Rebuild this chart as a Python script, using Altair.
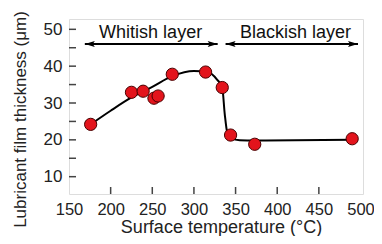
import altair as alt
import pandas as pd

# measured points
temp = [176, 225, 239, 252, 257, 274, 314, 334, 344, 373, 490]
thick = [24.2, 32.9, 33.2, 31.3, 31.9, 37.8, 38.4, 34.2, 21.3, 18.8, 20.3]

# smooth trend line
fit_x = [176, 200, 225, 250, 274, 300, 316, 328, 334, 337, 340, 345, 355, 373, 490]
fit_y = [24.2, 27.9, 31.5, 34.4, 37.3, 38.7, 38.5, 36.3, 34.2, 27.0, 22.0, 20.4, 19.9, 19.8, 20.0]

# annotation arrows
arrow_label = ["Whitish layer", "Blackish layer"]
arrow_start = [169, 338]
arrow_end = [328.5, 497]
arrow_y = [46.0, 46.0]
label_x = [248, 422]
label_y = [47.6, 47.6]

x_labels = [150, 200, 250, 300, 350, 400, 450, 500]
y_labels = [10, 20, 30, 40, 50]
x_ticks = [200, 250, 300, 350, 400, 450]
y_ticks = [10, 15, 20, 25, 30, 35, 40, 45, 50]

W, H = 294, 175
FONT = "Liberation Sans"

pts = pd.DataFrame({"t": temp, "h": thick})
fit = pd.DataFrame({"t": fit_x, "h": fit_y})
arr = pd.DataFrame({"label": arrow_label, "x1": arrow_start, "x2": arrow_end,
                    "y": arrow_y, "lx": label_x, "ly": label_y})
xt = pd.DataFrame({"t": x_ticks})
yt = pd.DataFrame({"h": y_ticks})

xscale = alt.Scale(domain=[150, 503], nice=False, zero=False)
yscale = alt.Scale(domain=[5.3, 52.8], nice=False, zero=False)

xaxis = alt.Axis(values=x_labels, ticks=False, domain=False, grid=False,
                 labelFontSize=16.5, labelFont=FONT, labelColor="#222", labelPadding=7,
                 labelFlush=False,
                 title="Surface temperature (°C)", titleFontSize=18, titleFont=FONT,
                 titleFontWeight="normal", titleColor="#222", titleX=152, titleY=38,
                 titleBaseline="alphabetic")
yaxis = alt.Axis(values=y_labels, ticks=False, domain=False, grid=False,
                 labelFontSize=17, labelFont=FONT, labelColor="#222", labelPadding=7,
                 title="Lubricant film thickness (μm)", titleFontSize=17, titleFont=FONT,
                 titleFontWeight="normal", titleColor="#222", titleY=100, titleX=-44,
                 titleBaseline="alphabetic")

line = alt.Chart(fit).mark_line(color="black", strokeWidth=2, interpolate="monotone").encode(
    x=alt.X("t:Q", scale=xscale, axis=xaxis),
    y=alt.Y("h:Q", scale=yscale, axis=yaxis),
)

points = alt.Chart(pts).mark_point(filled=True, size=150, fill="#e3141c", stroke="#4a0000",
                                   strokeWidth=1, opacity=1).encode(
    x=alt.X("t:Q", scale=xscale), y=alt.Y("h:Q", scale=yscale))

xtick = alt.Chart(xt).mark_rule(color="#444", strokeWidth=1.5).encode(
    x=alt.X("t:Q", scale=xscale), y=alt.value(H), y2=alt.value(H - 7))
ytick = alt.Chart(yt).mark_rule(color="#444", strokeWidth=1.5).encode(
    y=alt.Y("h:Q", scale=yscale), x=alt.value(0), x2=alt.value(7))

arrow_line = alt.Chart(arr).mark_rule(color="black", strokeWidth=2).encode(
    x=alt.X("x1:Q", scale=xscale), x2="x2:Q", y=alt.Y("y:Q", scale=yscale))
head_l = alt.Chart(arr).mark_point(shape="M0,0 L2,-0.6 L1.6,0 L2,0.6 Z", size=100,
                                   filled=True, color="black", opacity=1).encode(
    x=alt.X("x1:Q", scale=xscale), y=alt.Y("y:Q", scale=yscale))
head_r = alt.Chart(arr).mark_point(shape="M0,0 L-2,-0.6 L-1.6,0 L-2,0.6 Z", size=100,
                                   filled=True, color="black", opacity=1).encode(
    x=alt.X("x2:Q", scale=xscale), y=alt.Y("y:Q", scale=yscale))
labels = alt.Chart(arr).mark_text(fontSize=18, font=FONT, color="#111", align="center",
                                  baseline="alphabetic").encode(
    x=alt.X("lx:Q", scale=xscale), y=alt.Y("ly:Q", scale=yscale), text="label:N")

chart = alt.layer(xtick, ytick, line, points, arrow_line, head_l, head_r, labels).properties(
    width=W, height=H,
    autosize=alt.AutoSizeParams(type="none"),
    padding={"left": 61, "top": 11, "right": 11, "bottom": 42},
).configure_view(stroke="#555", strokeWidth=1.5).configure(background="white")

chart.save("out.html", embed_options={"renderer": "svg", "actions": False})
